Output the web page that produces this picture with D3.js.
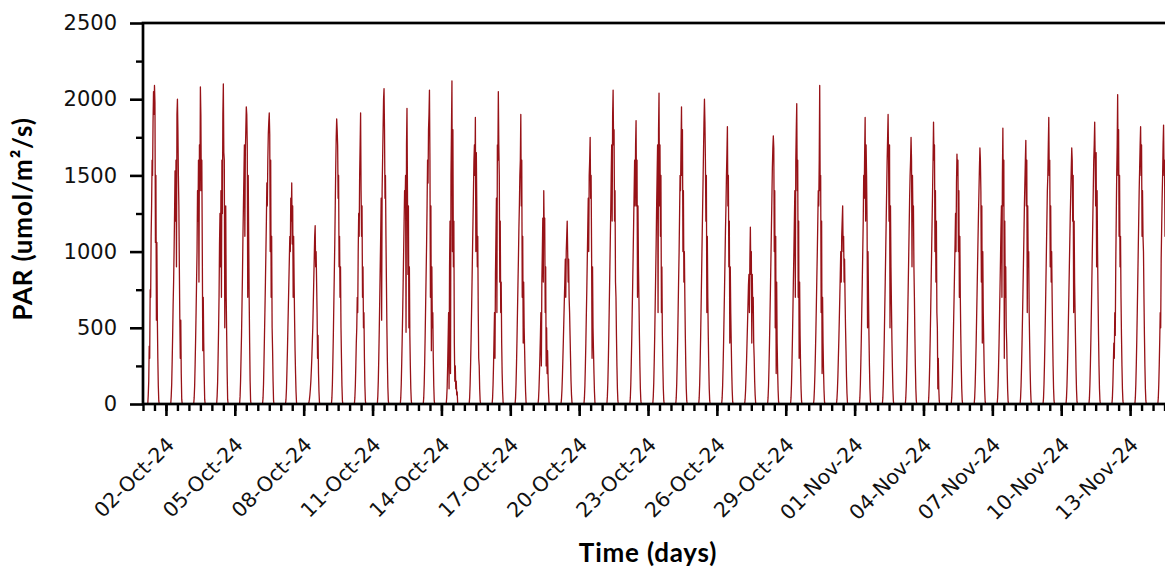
<!DOCTYPE html>
<html>
<head>
<meta charset="utf-8">
<script src="https://cdn.jsdelivr.net/npm/d3@7"></script>
<style>
  html, body { margin: 0; padding: 0; background: #fff; overflow: hidden; }
  svg { display: block; }
</style>
</head>
<body>
<div id="chart"></div>
<script>
// PAR readings, one row per day starting 01-Oct-24, half-hourly from 05:00 to 17:00 (UTC)
const firstDay = Date.UTC(2024, 9, 1);
const slotHours = [5, 5.5, 6, 6.5, 7, 7.5, 8, 8.5, 9, 9.5, 10, 10.5, 11, 11.5, 12, 12.5, 13, 13.5, 14, 14.5, 15, 15.5, 16, 16.5, 17];
const parByDay = [
  [0, 60, 150, 380, 300, 750, 700, 1100, 1300, 1600, 1500, 1850, 2050, 1900, 2090, 1980, 1060, 1500, 550, 1060, 560, 300, 120, 20, 0],
  [0, 50, 130, 280, 450, 650, 800, 1000, 1250, 1530, 1200, 1600, 900, 1900, 2000, 1800, 1500, 1300, 900, 550, 300, 550, 200, 30, 0],
  [0, 40, 120, 260, 420, 600, 800, 1000, 1400, 1200, 1600, 800, 1700, 1400, 2080, 1900, 1400, 1600, 1000, 350, 700, 400, 180, 30, 0],
  [0, 50, 140, 300, 480, 700, 1050, 1250, 900, 1400, 700, 1600, 1250, 1900, 2100, 1650, 1600, 500, 1050, 1300, 700, 450, 200, 30, 0],
  [0, 50, 150, 300, 450, 650, 850, 1100, 1300, 1500, 1700, 1100, 1650, 1800, 1950, 1900, 1700, 700, 1500, 1100, 700, 400, 150, 20, 0],
  [0, 40, 130, 280, 450, 620, 800, 1000, 1200, 1450, 1300, 1600, 1770, 1850, 1910, 1770, 1000, 1600, 700, 1100, 500, 350, 150, 20, 0],
  [0, 30, 100, 220, 350, 500, 650, 800, 950, 1100, 1000, 1350, 1200, 1450, 1050, 1300, 700, 1100, 800, 550, 350, 200, 80, 10, 0],
  [0, 10, 30, 60, 100, 150, 220, 300, 400, 500, 650, 800, 950, 1100, 1170, 900, 1000, 800, 600, 300, 450, 200, 80, 10, 0],
  [0, 40, 130, 280, 450, 650, 850, 1050, 1300, 1550, 1750, 1870, 1800, 1700, 1350, 1500, 900, 1100, 700, 900, 500, 300, 120, 20, 0],
  [0, 40, 120, 250, 400, 500, 700, 600, 1000, 1250, 1100, 1500, 1700, 1910, 1400, 1100, 1300, 700, 900, 500, 600, 300, 120, 20, 0],
  [0, 50, 150, 300, 480, 680, 900, 1100, 1350, 550, 1400, 1600, 1800, 2000, 2070, 1800, 1350, 1500, 1100, 800, 500, 280, 110, 20, 0],
  [0, 40, 130, 270, 430, 600, 800, 1000, 1200, 1400, 1300, 1500, 470, 1700, 1940, 1400, 850, 1300, 500, 900, 450, 250, 100, 20, 0],
  [0, 40, 130, 270, 450, 650, 850, 1050, 1300, 1600, 1450, 1800, 1900, 2060, 1600, 700, 1300, 350, 900, 500, 600, 300, 120, 20, 0],
  [0, 40, 110, 250, 420, 600, 100, 900, 1200, 200, 1500, 1800, 2120, 1000, 1800, 900, 1200, 400, 150, 250, 100, 150, 60, 80, 0],
  [0, 40, 130, 260, 420, 600, 800, 1000, 1200, 1400, 1600, 1700, 1500, 1880, 1000, 1650, 1300, 900, 1100, 600, 300, 250, 100, 20, 0],
  [0, 40, 130, 260, 430, 600, 300, 850, 1100, 1350, 600, 1700, 1600, 2050, 1700, 1500, 800, 1200, 600, 800, 400, 200, 80, 10, 0],
  [0, 40, 130, 260, 420, 600, 780, 950, 1150, 1300, 1500, 1600, 1900, 1300, 1600, 700, 1100, 400, 800, 500, 350, 200, 80, 10, 0],
  [0, 30, 100, 200, 320, 450, 600, 250, 800, 1000, 1220, 800, 1400, 1100, 1220, 600, 900, 250, 500, 200, 350, 180, 70, 10, 0],
  [0, 30, 90, 180, 300, 420, 550, 680, 800, 950, 700, 1000, 1100, 1200, 1000, 800, 950, 700, 600, 450, 300, 150, 60, 10, 0],
  [0, 40, 120, 250, 400, 580, 750, 950, 1150, 1350, 1000, 1500, 1600, 1750, 1350, 1500, 1000, 300, 900, 500, 350, 200, 80, 10, 0],
  [0, 50, 140, 280, 450, 650, 850, 1050, 1250, 1500, 1700, 1200, 1900, 2060, 1700, 1800, 1200, 1400, 800, 700, 450, 250, 100, 20, 0],
  [0, 40, 130, 270, 430, 620, 800, 1000, 1200, 1400, 1600, 1300, 1700, 1860, 1300, 1600, 700, 1300, 900, 700, 450, 250, 100, 20, 0],
  [0, 50, 140, 280, 450, 650, 850, 1050, 1300, 1500, 1700, 600, 1800, 2040, 1300, 1700, 1100, 1500, 600, 900, 450, 250, 100, 20, 0],
  [0, 40, 130, 270, 430, 620, 820, 1000, 1250, 1500, 1400, 1700, 1950, 1500, 1800, 1000, 1400, 800, 1000, 700, 450, 250, 100, 20, 0],
  [0, 40, 130, 270, 440, 640, 840, 1050, 1250, 1450, 1650, 1850, 2000, 1850, 1600, 1200, 1500, 600, 1100, 700, 450, 250, 100, 20, 0],
  [0, 40, 120, 250, 400, 580, 760, 950, 1150, 1300, 1500, 1650, 1820, 1300, 1500, 900, 1200, 400, 900, 600, 400, 220, 90, 15, 0],
  [0, 30, 90, 180, 280, 400, 520, 650, 780, 850, 600, 950, 1160, 850, 1000, 400, 850, 600, 700, 400, 300, 150, 60, 10, 0],
  [0, 40, 120, 250, 400, 580, 760, 950, 1150, 1350, 1550, 1680, 1760, 1680, 1000, 1400, 500, 1100, 200, 800, 400, 220, 90, 15, 0],
  [0, 40, 130, 270, 430, 620, 820, 1000, 1200, 1400, 700, 1600, 1800, 1970, 1400, 1600, 700, 1200, 300, 800, 450, 250, 100, 20, 0],
  [0, 30, 100, 200, 330, 480, 650, 830, 1000, 1200, 1400, 1300, 1600, 2090, 1400, 1500, 600, 1200, 200, 700, 400, 220, 90, 15, 0],
  [0, 30, 90, 180, 300, 420, 560, 700, 850, 1000, 800, 1100, 1200, 1300, 1000, 1100, 800, 950, 700, 500, 350, 180, 70, 10, 0],
  [0, 40, 130, 270, 430, 620, 800, 1000, 1200, 1500, 1350, 1650, 1880, 1200, 1700, 1500, 1200, 500, 1000, 700, 450, 250, 100, 20, 0],
  [0, 40, 130, 270, 430, 620, 800, 1000, 1200, 1400, 1600, 1750, 1900, 1600, 1200, 1700, 500, 1300, 900, 650, 420, 240, 100, 20, 0],
  [0, 40, 120, 250, 400, 580, 760, 950, 1150, 1350, 1500, 1600, 1750, 1600, 900, 1500, 1200, 1300, 900, 700, 450, 250, 100, 20, 0],
  [0, 40, 130, 260, 420, 600, 800, 1000, 1200, 1400, 1600, 1850, 1600, 1700, 1000, 1400, 800, 1200, 600, 500, 100, 300, 100, 20, 0],
  [0, 40, 120, 240, 380, 540, 700, 880, 1050, 1250, 1000, 1450, 1640, 1500, 1600, 1000, 1400, 700, 1100, 700, 450, 250, 100, 20, 0],
  [0, 40, 120, 240, 380, 550, 720, 900, 1080, 1250, 1400, 1550, 1680, 1600, 1400, 800, 1300, 400, 1000, 600, 400, 220, 90, 15, 0],
  [0, 40, 120, 250, 400, 580, 760, 950, 1150, 1300, 700, 1500, 1810, 1300, 1600, 300, 1200, 700, 900, 500, 400, 220, 90, 15, 0],
  [0, 40, 120, 240, 390, 560, 740, 920, 1100, 1300, 1450, 1600, 1730, 1300, 1600, 600, 1300, 900, 1000, 600, 400, 220, 90, 15, 0],
  [0, 40, 130, 260, 420, 600, 800, 1000, 1200, 1400, 1500, 1700, 1880, 1500, 1600, 900, 1300, 800, 1000, 700, 450, 250, 100, 20, 0],
  [0, 40, 120, 240, 380, 550, 720, 900, 1080, 1250, 1400, 1550, 1680, 1600, 1200, 1500, 600, 1200, 800, 600, 400, 220, 90, 15, 0],
  [0, 40, 130, 260, 420, 600, 800, 1000, 1200, 1400, 1600, 1700, 1850, 1600, 1300, 1650, 900, 1400, 1000, 700, 450, 250, 100, 20, 0],
  [0, 40, 130, 260, 400, 300, 600, 450, 900, 1200, 1500, 1700, 2030, 1500, 1800, 1100, 1500, 900, 1100, 700, 450, 250, 100, 20, 0],
  [0, 40, 130, 260, 420, 600, 800, 1000, 1200, 1400, 1550, 1700, 1820, 1500, 1700, 1100, 1400, 1100, 1000, 700, 450, 250, 100, 20, 0],
  [0, 40, 130, 260, 420, 600, 500, 950, 1150, 1350, 1500, 1700, 1830, 1500, 1600, 1100, 1300, 800, 900, 650, 420, 240, 100, 20, 0]
];

const xLabelDates = ["2024-10-02", "2024-10-05", "2024-10-08", "2024-10-11", "2024-10-14", "2024-10-17",
  "2024-10-20", "2024-10-23", "2024-10-26", "2024-10-29", "2024-11-01", "2024-11-04", "2024-11-07",
  "2024-11-10", "2024-11-13"];
const yMajorTicks = [0, 500, 1000, 1500, 2000, 2500];
const yMinorTicks = [250, 750, 1250, 1750, 2250];

const width = 1165, height = 567;
const margin = { top: 23, left: 143, bottom: 163 };
const plotW = 1033; // 45 days, runs past the right edge like the original
const plotH = height - margin.top - margin.bottom;
const hourMs = 3600 * 1000, dayMs = 24 * hourMs;

const series = [];
parByDay.forEach((vals, d) => {
  vals.forEach((v, j) => {
    series.push({ t: new Date(firstDay + d * dayMs + slotHours[j] * hourMs), v: v });
  });
});

const svg = d3.select("#chart").append("svg")
  .attr("width", width)
  .attr("height", height);

const x = d3.scaleUtc()
  .domain([new Date(firstDay), new Date(firstDay + 45 * dayMs)])
  .range([0, plotW]);
const y = d3.scaleLinear().domain([0, 2500]).range([plotH, 0]);

const g = svg.append("g").attr("transform", `translate(${margin.left},${margin.top})`);

const line = d3.line().x(d => x(d.t)).y(d => y(d.v));
g.append("path")
  .datum(series)
  .attr("d", line)
  .style("fill", "none")
  .style("stroke", "#971217")
  .style("stroke-width", 1.3)
  .style("stroke-linejoin", "round");

// frame (right side falls outside the picture)
g.append("rect")
  .attr("x", 0).attr("y", 0)
  .attr("width", plotW).attr("height", plotH)
  .style("fill", "none").style("stroke", "#000").style("stroke-width", 2.7);

const parseDay = d3.utcParse("%Y-%m-%d");
const fmtDay = d3.utcFormat("%d-%b-%y");

// x minor ticks every 12 h
const xMinor = d3.utcHour.every(12).range(new Date(firstDay), new Date(firstDay + 45 * dayMs));
g.append("g").attr("transform", `translate(0,${plotH})`)
  .call(d3.axisBottom(x).tickValues(xMinor).tickSize(7).tickFormat(""))
  .call(a => a.select(".domain").remove())
  .call(a => a.selectAll("line").style("stroke-width", 2.4));

const xAxis = g.append("g").attr("transform", `translate(0,${plotH})`)
  .call(d3.axisBottom(x).tickValues(xLabelDates.map(parseDay)).tickSize(12).tickFormat(fmtDay))
  .call(a => a.select(".domain").remove())
  .call(a => a.selectAll("line").style("stroke-width", 2.6));
xAxis.selectAll("text")
  .attr("x", 0).attr("y", 0).attr("dy", 0)
  .attr("text-anchor", "end")
  .attr("transform", "translate(9,42) rotate(-45)")
  .style("font-family", "'DejaVu Sans', sans-serif")
  .style("font-size", "20.5px")
  .style("fill", "#111");

// y axis
g.append("g")
  .call(d3.axisLeft(y).tickValues(yMinorTicks).tickSize(7).tickFormat(""))
  .call(a => a.select(".domain").remove())
  .call(a => a.selectAll("line").style("stroke-width", 2.4));
g.append("g")
  .call(d3.axisLeft(y).tickValues(yMajorTicks).tickSize(13).tickPadding(13).tickFormat(d3.format("d")))
  .call(a => a.select(".domain").remove())
  .call(a => a.selectAll("line").style("stroke-width", 2.6))
  .call(a => a.selectAll("text")
    .style("font-family", "'DejaVu Sans', sans-serif")
    .style("font-size", "21px")
    .style("fill", "#111"));

// axis titles
svg.append("text")
  .attr("x", 648).attr("y", 562)
  .attr("text-anchor", "middle")
  .style("font-family", "Lato, sans-serif")
  .style("font-weight", "bold")
  .style("font-size", "26px")
  .style("letter-spacing", "0.8px")
  .text("Time (days)");

svg.append("text")
  .attr("transform", "translate(32,219) rotate(-90)")
  .attr("text-anchor", "middle")
  .style("font-family", "Lato, sans-serif")
  .style("font-weight", "bold")
  .style("font-size", "26px")
  .style("letter-spacing", "0.8px")
  .text("PAR (umol/m²/s)");
</script>
</body>
</html>
